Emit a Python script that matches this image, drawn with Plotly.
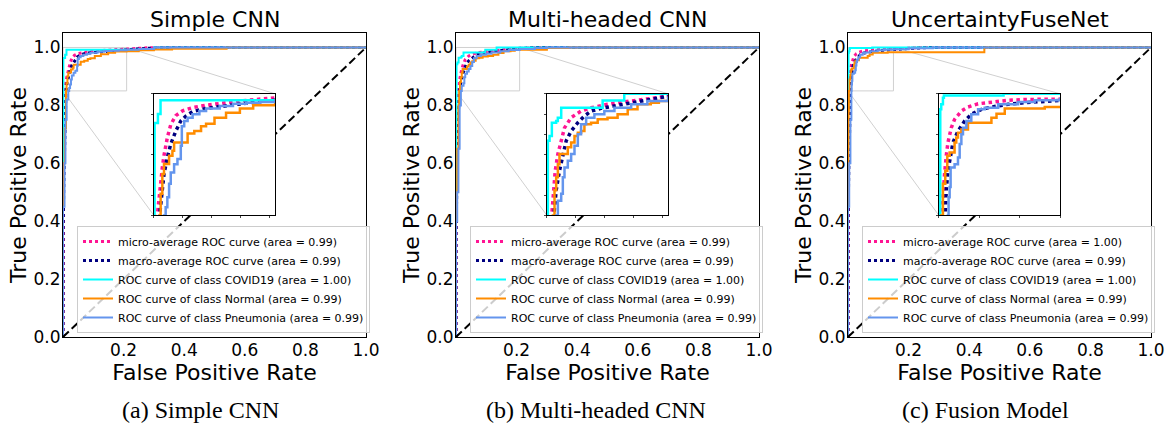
import plotly.graph_objects as go

# ---------------- data ----------------
panel_titles = ["Simple CNN", "Multi-headed CNN", "UncertaintyFuseNet"]
captions = ["(a) Simple CNN", "(b) Multi-headed CNN", "(c) Fusion Model"]
class_names = ["COVID19", "Normal", "Pneumonia"]

auc_micro = [0.99, 0.99, 1.00]
auc_macro = [0.99, 0.99, 0.99]
auc_covid = [1.00, 1.00, 1.00]
auc_normal = [0.99, 0.99, 0.99]
auc_pneu = [0.99, 0.99, 0.99]

# zoom window (FPR upper limit) per panel
zoom_fpr_max = [0.21, 0.21, 0.15]
zoom_tpr_min = 0.85

x_tick_labels = ["0.2", "0.4", "0.6", "0.8", "1.0"]
x_tick_vals = [0.2, 0.4, 0.6, 0.8, 1.0]
y_tick_labels = ["0.0", "0.2", "0.4", "0.6", "0.8", "1.0"]
y_tick_vals = [0.0, 0.2, 0.4, 0.6, 0.8, 1.0]

# ---- Panel 1 (Simple CNN) ----
p1_micro_fpr = [0, 0, 0.002, 0.004, 0.0059, 0.0087, 0.0117, 0.0146, 0.0175, 0.0233, 0.0292, 0.0379, 0.0496, 0.0671, 0.0904, 0.12, 0.149, 0.177, 0.21, 0.28, 0.35, 1.0]
p1_micro_tpr = [0, 0.45, 0.6, 0.78, 0.85, 0.8725, 0.893, 0.909, 0.924, 0.946, 0.962, 0.973, 0.979, 0.983, 0.986, 0.989, 0.991, 0.993, 0.996, 0.999, 1.0, 1.0]
p1_macro_fpr = [0, 0, 0.003, 0.007, 0.0099, 0.0134, 0.0175, 0.0233, 0.0292, 0.0379, 0.0466, 0.0554, 0.0671, 0.0904, 0.12, 0.149, 0.177, 0.21, 0.26, 0.33, 1.0]
p1_macro_tpr = [0, 0.35, 0.55, 0.75, 0.85, 0.8766, 0.901, 0.9215, 0.938, 0.954, 0.9665, 0.9726, 0.978, 0.982, 0.985, 0.988, 0.990, 0.992, 0.996, 1.0, 1.0]
p1_covid_fpr = [0, 0, 0.0012, 0.0012, 0.007, 0.007, 0.0115, 0.0115, 0.30, 0.30, 1.0]
p1_covid_tpr = [0, 0.72, 0.72, 0.964, 0.964, 0.975, 0.975, 0.992, 0.992, 1.0, 1.0]
p1_normal_fpr = [0, 0, 0.003, 0.006, 0.0099, 0.0117, 0.0146, 0.0175, 0.0263, 0.0321, 0.035, 0.0554, 0.0584, 0.07, 0.0817, 0.0904, 0.105, 0.125, 0.149, 0.172, 0.21, 0.25, 0.30, 0.36, 0.54, 0.54, 1.0]
p1_normal_tpr = [0, 0.5, 0.6, 0.72, 0.85, 0.8766, 0.901, 0.9134, 0.9236, 0.9297, 0.940, 0.940, 0.951, 0.954, 0.960, 0.963, 0.9706, 0.9767, 0.982, 0.986, 0.987, 0.990, 0.993, 0.996, 0.998, 1.0, 1.0]
p1_pneu_fpr = [0, 0, 0.003, 0.005, 0.008, 0.012, 0.0175, 0.0204, 0.0233, 0.0263, 0.0292, 0.035, 0.0408, 0.0466, 0.0484, 0.0525, 0.0584, 0.0671, 0.0788, 0.0904, 0.114, 0.137, 0.16, 0.184, 0.21, 0.25, 0.30, 1.0]
p1_pneu_tpr = [0, 0.45, 0.45, 0.6, 0.75, 0.82, 0.85, 0.860, 0.8725, 0.889, 0.903, 0.913, 0.9195, 0.936, 0.960, 0.9665, 0.9706, 0.9747, 0.9787, 0.982, 0.985, 0.9877, 0.989, 0.990, 0.992, 0.995, 1.0, 1.0]

# ---- Panel 2 (Multi-headed CNN) ----
p2_micro_fpr = [0, 0, 0.003, 0.006, 0.0086, 0.0121, 0.0144, 0.019, 0.0248, 0.0305, 0.042, 0.0592, 0.0765, 0.105, 0.134, 0.163, 0.21, 0.28, 1.0]
p2_micro_tpr = [0, 0.45, 0.65, 0.80, 0.852, 0.889, 0.905, 0.9256, 0.944, 0.958, 0.9706, 0.9787, 0.9828, 0.987, 0.990, 0.993, 0.997, 1.0, 1.0]
p2_macro_fpr = [0, 0, 0.004, 0.008, 0.0121, 0.0161, 0.0218, 0.0276, 0.0334, 0.042, 0.0536, 0.065, 0.0765, 0.0938, 0.117, 0.146, 0.174, 0.21, 0.27, 1.0]
p2_macro_tpr = [0, 0.35, 0.6, 0.78, 0.85, 0.881, 0.905, 0.9256, 0.942, 0.954, 0.9644, 0.9726, 0.9787, 0.982, 0.985, 0.989, 0.993, 0.997, 1.0, 1.0]
p2_covid_fpr = [0, 0, 0.0017, 0.0017, 0.0046, 0.0086, 0.016, 0.0189, 0.0248, 0.0966, 0.0966, 0.134, 0.134, 1.0]
p2_covid_tpr = [0, 0.75, 0.75, 0.942, 0.948, 0.9644, 0.9665, 0.9706, 0.9828, 0.9828, 0.9918, 0.9918, 1.0, 1.0]
p2_normal_fpr = [0, 0, 0.004, 0.008, 0.0104, 0.0132, 0.0161, 0.019, 0.0218, 0.0305, 0.0362, 0.042, 0.0478, 0.0536, 0.0592, 0.065, 0.0765, 0.088, 0.105, 0.1225, 0.14, 0.157, 0.18, 0.194, 0.21, 0.30, 0.37, 1.0]
p2_normal_tpr = [0, 0.5, 0.65, 0.8, 0.85, 0.881, 0.897, 0.913, 0.9256, 0.9256, 0.934, 0.940, 0.948, 0.952, 0.954, 0.9624, 0.9644, 0.9685, 0.9706, 0.9747, 0.9808, 0.987, 0.989, 0.991, 0.992, 0.998, 1.0, 1.0]
p2_pneu_fpr = [0, 0, 0.004, 0.008, 0.012, 0.0161, 0.019, 0.0248, 0.0276, 0.0305, 0.0362, 0.042, 0.0478, 0.0536, 0.0592, 0.068, 0.0823, 0.0995, 0.117, 0.146, 0.174, 0.21, 0.26, 0.30, 1.0]
p2_pneu_tpr = [0, 0.4, 0.5, 0.65, 0.8, 0.85, 0.868, 0.8766, 0.897, 0.909, 0.9174, 0.9256, 0.936, 0.950, 0.9624, 0.9706, 0.9747, 0.9787, 0.9828, 0.987, 0.991, 0.995, 0.998, 1.0, 1.0]

# ---- Panel 3 (UncertaintyFuseNet) ----
p3_micro_fpr = [0, 0, 0.002, 0.0037, 0.005, 0.007, 0.0091, 0.0112, 0.0153, 0.0194, 0.0278, 0.036, 0.0485, 0.065, 0.0855, 0.1065, 0.127, 0.15, 0.20, 0.25, 1.0]
p3_micro_tpr = [0, 0.5, 0.7, 0.85, 0.8766, 0.901, 0.9236, 0.940, 0.958, 0.9685, 0.9787, 0.9837, 0.9877, 0.990, 0.992, 0.993, 0.994, 0.996, 0.998, 1.0, 1.0]
p3_macro_fpr = [0, 0, 0.003, 0.006, 0.0079, 0.0091, 0.0112, 0.0145, 0.0174, 0.0236, 0.0319, 0.0401, 0.0526, 0.065, 0.0855, 0.1065, 0.127, 0.15, 0.20, 0.27, 1.0]
p3_macro_tpr = [0, 0.4, 0.6, 0.78, 0.85, 0.881, 0.905, 0.9256, 0.940, 0.954, 0.9665, 0.9747, 0.9808, 0.9837, 0.987, 0.989, 0.991, 0.993, 0.997, 1.0, 1.0]
p3_covid_fpr = [0, 0, 0.0017, 0.0017, 0.0029, 0.005, 0.0062, 0.08, 0.08, 1.0]
p3_covid_tpr = [0, 0.8, 0.8, 0.981, 0.987, 0.995, 0.998, 0.998, 1.0, 1.0]
p3_normal_fpr = [0, 0, 0.001, 0.002, 0.0029, 0.005, 0.0079, 0.0104, 0.0133, 0.0174, 0.0194, 0.0215, 0.0236, 0.0278, 0.036, 0.0629, 0.065, 0.0713, 0.0815, 0.129, 0.131, 0.45, 0.45, 1.0]
p3_normal_tpr = [0, 0.5, 0.65, 0.78, 0.85, 0.889, 0.905, 0.9236, 0.9277, 0.9277, 0.940, 0.946, 0.952, 0.956, 0.9644, 0.9644, 0.9706, 0.9755, 0.982, 0.982, 0.9837, 0.9837, 1.0, 1.0]
p3_pneu_fpr = [0, 0, 0.004, 0.008, 0.0112, 0.012, 0.0133, 0.0145, 0.0194, 0.0236, 0.0257, 0.0278, 0.0298, 0.034, 0.0401, 0.0485, 0.0567, 0.0733, 0.098, 0.1185, 0.15, 0.20, 0.28, 1.0]
p3_pneu_tpr = [0, 0.45, 0.6, 0.75, 0.85, 0.8725, 0.885, 0.909, 0.913, 0.9215, 0.938, 0.950, 0.958, 0.9665, 0.9747, 0.9808, 0.9828, 0.987, 0.990, 0.992, 0.994, 0.997, 1.0, 1.0]

panels = [
    dict(micro=(p1_micro_fpr, p1_micro_tpr), macro=(p1_macro_fpr, p1_macro_tpr),
         covid=(p1_covid_fpr, p1_covid_tpr), normal=(p1_normal_fpr, p1_normal_tpr),
         pneu=(p1_pneu_fpr, p1_pneu_tpr)),
    dict(micro=(p2_micro_fpr, p2_micro_tpr), macro=(p2_macro_fpr, p2_macro_tpr),
         covid=(p2_covid_fpr, p2_covid_tpr), normal=(p2_normal_fpr, p2_normal_tpr),
         pneu=(p2_pneu_fpr, p2_pneu_tpr)),
    dict(micro=(p3_micro_fpr, p3_micro_tpr), macro=(p3_macro_fpr, p3_macro_tpr),
         covid=(p3_covid_fpr, p3_covid_tpr), normal=(p3_normal_fpr, p3_normal_tpr),
         pneu=(p3_pneu_fpr, p3_pneu_tpr)),
]

# ---------------- layout geometry (pixels) ----------------
W, H = 1170, 423
FONT = "DejaVu Sans"
panel_left_px = [63, 456, 848]
panel_w_px = 303
top_px, bottom_px = 33, 337
caption_cx_px = [200, 596, 985]
# inset placement in axes fraction
ins_x0, ins_x1, ins_y0, ins_y1 = 0.30, 0.70, 0.40, 0.80
YMAX = 1.05

styles = {
    "micro": dict(color="#FF1493", dash="dot", width=3),
    "macro": dict(color="#000080", dash="dot", width=3),
    "covid": dict(color="#00FFFF", dash="solid", width=2),
    "normal": dict(color="#FF8C00", dash="solid", width=2),
    "pneu": dict(color="#6495ED", dash="solid", width=2),
}

fig = go.Figure()
layout = dict(
    width=W, height=H, margin=dict(l=0, r=0, t=0, b=0, autoexpand=False),
    paper_bgcolor="white", plot_bgcolor="white",
    font=dict(family=FONT, color="black"),
    annotations=[], shapes=[],
)

ybot = 1 - bottom_px / H
ytop = 1 - top_px / H
for i in range(3):
    n_main = i + 1
    n_ins = i + 4
    x0 = panel_left_px[i] / W
    x1 = (panel_left_px[i] + panel_w_px) / W
    pw = x1 - x0
    ph = ytop - ybot
    sfx_m = "" if n_main == 1 else str(n_main)
    sfx_i = str(n_ins)
    leg = "legend" if i == 0 else f"legend{i+1}"

    labels = {
        "micro": f"micro-average ROC curve (area = {auc_micro[i]:.2f})",
        "macro": f"macro-average ROC curve (area = {auc_macro[i]:.2f})",
        "covid": f"ROC curve of class {class_names[0]} (area = {auc_covid[i]:.2f})",
        "normal": f"ROC curve of class {class_names[1]} (area = {auc_normal[i]:.2f})",
        "pneu": f"ROC curve of class {class_names[2]} (area = {auc_pneu[i]:.2f})",
    }
    for key in ["micro", "macro", "covid", "normal", "pneu"]:
        fx, fy = panels[i][key]
        st = styles[key]
        shape = "linear" if key in ("micro", "macro") else "hv"
        fig.add_trace(go.Scatter(
            x=fx, y=fy, mode="lines", name=labels[key],
            line=dict(color=st["color"], dash=st["dash"], width=st["width"], shape=shape),
            xaxis="x" + sfx_m, yaxis="y" + sfx_m, legend=leg, showlegend=True,
            hoverinfo="skip"))
    fig.add_trace(go.Scatter(
        x=[0, 1], y=[0, 1], mode="lines", showlegend=False,
        line=dict(color="black", dash="8px,4px", width=2),
        xaxis="x" + sfx_m, yaxis="y" + sfx_m, hoverinfo="skip"))
    for key in ["micro", "macro", "covid", "normal", "pneu"]:
        fx, fy = panels[i][key]
        st = styles[key]
        shape = "linear" if key in ("micro", "macro") else "hv"
        fig.add_trace(go.Scatter(
            x=fx, y=fy, mode="lines", showlegend=False,
            line=dict(color=st["color"], dash=st["dash"], width=st["width"] + 0.5, shape=shape),
            xaxis="x" + sfx_i, yaxis="y" + sfx_i, hoverinfo="skip"))

    main_axis_common = dict(showline=True, linecolor="black", linewidth=1, mirror=True,
                            ticks="", showgrid=False, zeroline=False, automargin=False,
                            tickfont=dict(family=FONT, size=17, color="black"))
    layout["xaxis" + sfx_m] = dict(
        domain=[x0, x1], range=[0, 1], anchor="y" + sfx_m,
        tickvals=x_tick_vals, ticktext=x_tick_labels, ticklabelstandoff=-2,
        title=dict(text="False Positive Rate", font=dict(family=FONT, size=22, color="black"), standoff=0),
        **main_axis_common)
    layout["yaxis" + sfx_m] = dict(
        domain=[ybot, ytop], range=[0, YMAX], anchor="x" + sfx_m,
        tickvals=y_tick_vals, ticktext=y_tick_labels, ticklabelstandoff=-2,
        title=dict(text="True Positive Rate", font=dict(family=FONT, size=22, color="black"), standoff=0),
        **main_axis_common)

    # inset
    layout["xaxis" + sfx_i] = dict(
        domain=[x0 + ins_x0 * pw, x0 + ins_x1 * pw], range=[0, zoom_fpr_max[i]],
        anchor="y" + sfx_i, showline=True, linecolor="black", linewidth=1, mirror=True,
        ticks="outside", ticklen=2, tickwidth=1, dtick=0.05, tick0=0, showticklabels=False,
        showgrid=False, zeroline=False, automargin=False)
    layout["yaxis" + sfx_i] = dict(
        domain=[ybot + ins_y0 * ph, ybot + ins_y1 * ph], range=[zoom_tpr_min, 1.0],
        anchor="x" + sfx_i, showline=True, linecolor="black", linewidth=1, mirror=True,
        ticks="outside", ticklen=2, tickwidth=1, dtick=0.025, tick0=0, showticklabels=False,
        showgrid=False, zeroline=False, automargin=False)

    # zoom rectangle + connectors (main data coords)
    gray = "#d0d0d0"
    layout["shapes"].append(dict(type="rect", xref="x" + sfx_m, yref="y" + sfx_m,
                                 x0=0, x1=zoom_fpr_max[i], y0=zoom_tpr_min, y1=1.0,
                                 line=dict(color=gray, width=1), layer="below"))
    layout["shapes"].append(dict(type="line", xref="x" + sfx_m, yref="y" + sfx_m,
                                 x0=zoom_fpr_max[i], y0=1.0, x1=ins_x1, y1=ins_y1 * YMAX,
                                 line=dict(color=gray, width=1), layer="below"))
    layout["shapes"].append(dict(type="line", xref="x" + sfx_m, yref="y" + sfx_m,
                                 x0=0, y0=zoom_tpr_min, x1=ins_x0, y1=ins_y0 * YMAX,
                                 line=dict(color=gray, width=1), layer="below"))

    # legend
    layout[leg] = dict(x=(panel_left_px[i] + 14) / W, y=1 - 333 / H,
                       xanchor="left", yanchor="bottom",
                       font=dict(family=FONT, size=11, color="black"),
                       bgcolor="rgba(255,255,255,0.8)", bordercolor="#cccccc", borderwidth=1,
                       itemwidth=30, tracegroupgap=0)

    # title
    layout["annotations"].append(dict(
        text=panel_titles[i], xref="paper", yref="paper",
        x=(x0 + x1) / 2, y=ytop, xanchor="center", yanchor="bottom", yshift=-1,
        showarrow=False, font=dict(family=FONT, size=22, color="black")))
    # caption
    layout["annotations"].append(dict(
        text=captions[i], xref="paper", yref="paper",
        x=caption_cx_px[i] / W, y=1 - 410 / H, xanchor="center", yanchor="middle",
        showarrow=False, font=dict(family="Liberation Serif", size=24, color="black")))

fig.update_layout(**layout)
fig.write_html("out.html")
